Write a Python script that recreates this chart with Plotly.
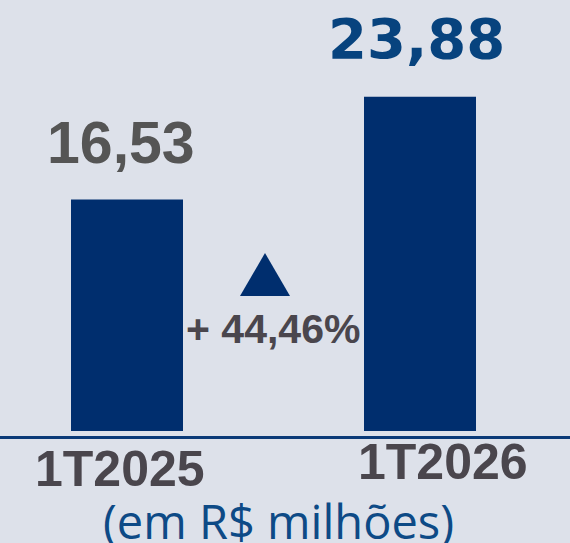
import plotly.graph_objects as go

categories = ["1T2025", "1T2026"]
values = [16.53, 23.88]
value_labels = ["16,53", "23,88"]
variation_label = "+ 44,46%"
unit_label = "(em R$ milhões)"

BG = "#dde1ea"
NAVY = "#002e6e"
GRAY = "#555555"
DARK = "#4a464d"
BLUE_TXT = "#07437e"

W, H = 570, 543
PLOT_BOTTOM = 436  # px from top where baseline line sits
px_per_unit = 14.0
y_lo = -5 / px_per_unit
y_hi = PLOT_BOTTOM / px_per_unit + y_lo

x_pos = [0, 1]
ppx = 293.0
x_lo = -127 / ppx
x_hi = 1 + (W - 420) / ppx

fig = go.Figure()
fig.add_trace(go.Bar(
    x=x_pos, y=values, width=112 / ppx,
    marker=dict(color=NAVY, line=dict(width=0)),
    hoverinfo="skip",
))

def py_to_paper(py):
    return (PLOT_BOTTOM - py) / PLOT_BOTTOM

def px_to_paper(px):
    return px / W

annotations = []
label_fonts = [dict(family="Liberation Sans, Arial", size=59, color=GRAY),
               dict(family="DejaVu Sans", size=56, color=BLUE_TXT)]
label_dx = [-6, -4]
label_shift = [22, 24]
for i in range(2):
    annotations.append(dict(
        x=x_pos[i], y=values[i], xref="x", yref="y",
        text="<b>%s</b>" % value_labels[i], showarrow=False,
        xanchor="center", yanchor="bottom", xshift=label_dx[i], yshift=label_shift[i],
        font=label_fonts[i],
    ))

cat_centers = [(120, 469), (443, 462)]
for i, c in enumerate(categories):
    cx, cy = cat_centers[i]
    annotations.append(dict(
        x=px_to_paper(cx), y=py_to_paper(cy), xref="paper", yref="paper",
        text="<b>%s</b>" % c, showarrow=False,
        xanchor="center", yanchor="middle",
        font=dict(family="Liberation Sans, Arial", size=50, color=DARK),
    ))

annotations.append(dict(
    x=px_to_paper(273), y=py_to_paper(329), xref="paper", yref="paper",
    text="<b>%s</b>" % variation_label, showarrow=False,
    xanchor="center", yanchor="middle",
    font=dict(family="Liberation Sans, Arial", size=41, color=DARK),
))

annotations.append(dict(
    x=px_to_paper(278), y=py_to_paper(521), xref="paper", yref="paper",
    text=unit_label, showarrow=False,
    xanchor="center", yanchor="middle",
    font=dict(family="Open Sans", size=47, color="#0d4a86"),
))

shapes = [dict(
    type="path", xref="paper", yref="paper",
    path="M %f,%f L %f,%f L %f,%f Z" % (
        px_to_paper(240), py_to_paper(296),
        px_to_paper(290), py_to_paper(296),
        px_to_paper(265), py_to_paper(253)),
    fillcolor=NAVY, line=dict(width=0),
)]

fig.update_layout(
    width=W, height=H,
    margin=dict(l=0, r=0, t=0, b=H - PLOT_BOTTOM),
    paper_bgcolor=BG, plot_bgcolor=BG,
    showlegend=False,
    xaxis=dict(range=[x_lo, x_hi], showgrid=False, zeroline=False,
               showticklabels=False, ticks="", showline=True,
               linecolor="#0a3a78", linewidth=3, fixedrange=True),
    yaxis=dict(range=[y_lo, y_hi], showgrid=False, zeroline=False,
               showticklabels=False, ticks="", showline=False, fixedrange=True),
    annotations=annotations,
    shapes=shapes,
)

fig.write_html("out.html", config={"displayModeBar": False},
               post_script="document.body.style.margin='0';document.body.style.overflow='hidden';document.body.style.background='%s';" % BG)
